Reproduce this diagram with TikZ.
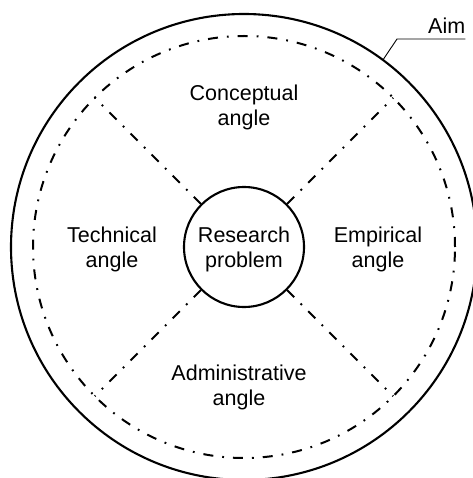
\documentclass[tikz,border=0pt]{standalone}
\usepackage{fontspec}
\setmainfont{Liberation Sans}
\usetikzlibrary{calc}
\tikzset{
  solidline/.style={line width=2.1pt},
  dashdotline/.style={line width=2pt, dash pattern=on 10pt off 9pt on 1.8pt off 9pt},
  leader/.style={line width=0.9pt},
  label/.style={align=center, inner sep=0pt, font=\fontsize{21.5}{25.5}\selectfont},
}
\begin{document}
\begin{tikzpicture}[x=1pt,y=-1pt]
\useasboundingbox (0,0) rectangle (472,478);
\fill[white] (0,0) rectangle (472,478);
\coordinate (c) at (244,247);
% outer solid circle and dash-dot circle
\draw[solidline] (c) circle[radius=233pt];
\draw[dashdotline] (c) circle[radius=211pt];
% central circle
\node[circle, draw, solidline, minimum size=120pt, inner sep=0pt] (rp) at (c) {};
\node[label] (rptext) at (244,249.5) {Research\\problem};
% radial dividers
\coordinate (ne) at ($(c)+(45:211pt)$);
\coordinate (nw) at ($(c)+(135:211pt)$);
\coordinate (sw) at ($(c)+(225:211pt)$);
\coordinate (se) at ($(c)+(315:211pt)$);
\draw[dashdotline] (rp.45) -- (ne);
\draw[dashdotline] (rp.135) -- (nw);
\draw[dashdotline] (rp.225) -- (sw);
\draw[dashdotline] (rp.315) -- (se);
% sector labels
\node[label] (concept) at (244,107.5) {Conceptual\\angle};
\node[label] (tech) at (112,249.5) {Technical\\angle};
\node[label] (emp) at (378,249.5) {Empirical\\angle};
\node[label] (admin) at (239,387.5) {Administrative\\angle};
% Aim label with leader
\node[font=\fontsize{21.5}{25.5}\selectfont, inner sep=0pt, anchor=base west] (aim) at (428,34) {Aim};
\coordinate (aimpt) at ($(c)+(53.4:233pt)$);
\coordinate (aimknee) at (397,39);
\draw[leader] (aimpt) -- (aimknee) -- (aimknee -| aim.east);
\end{tikzpicture}
\end{document}
